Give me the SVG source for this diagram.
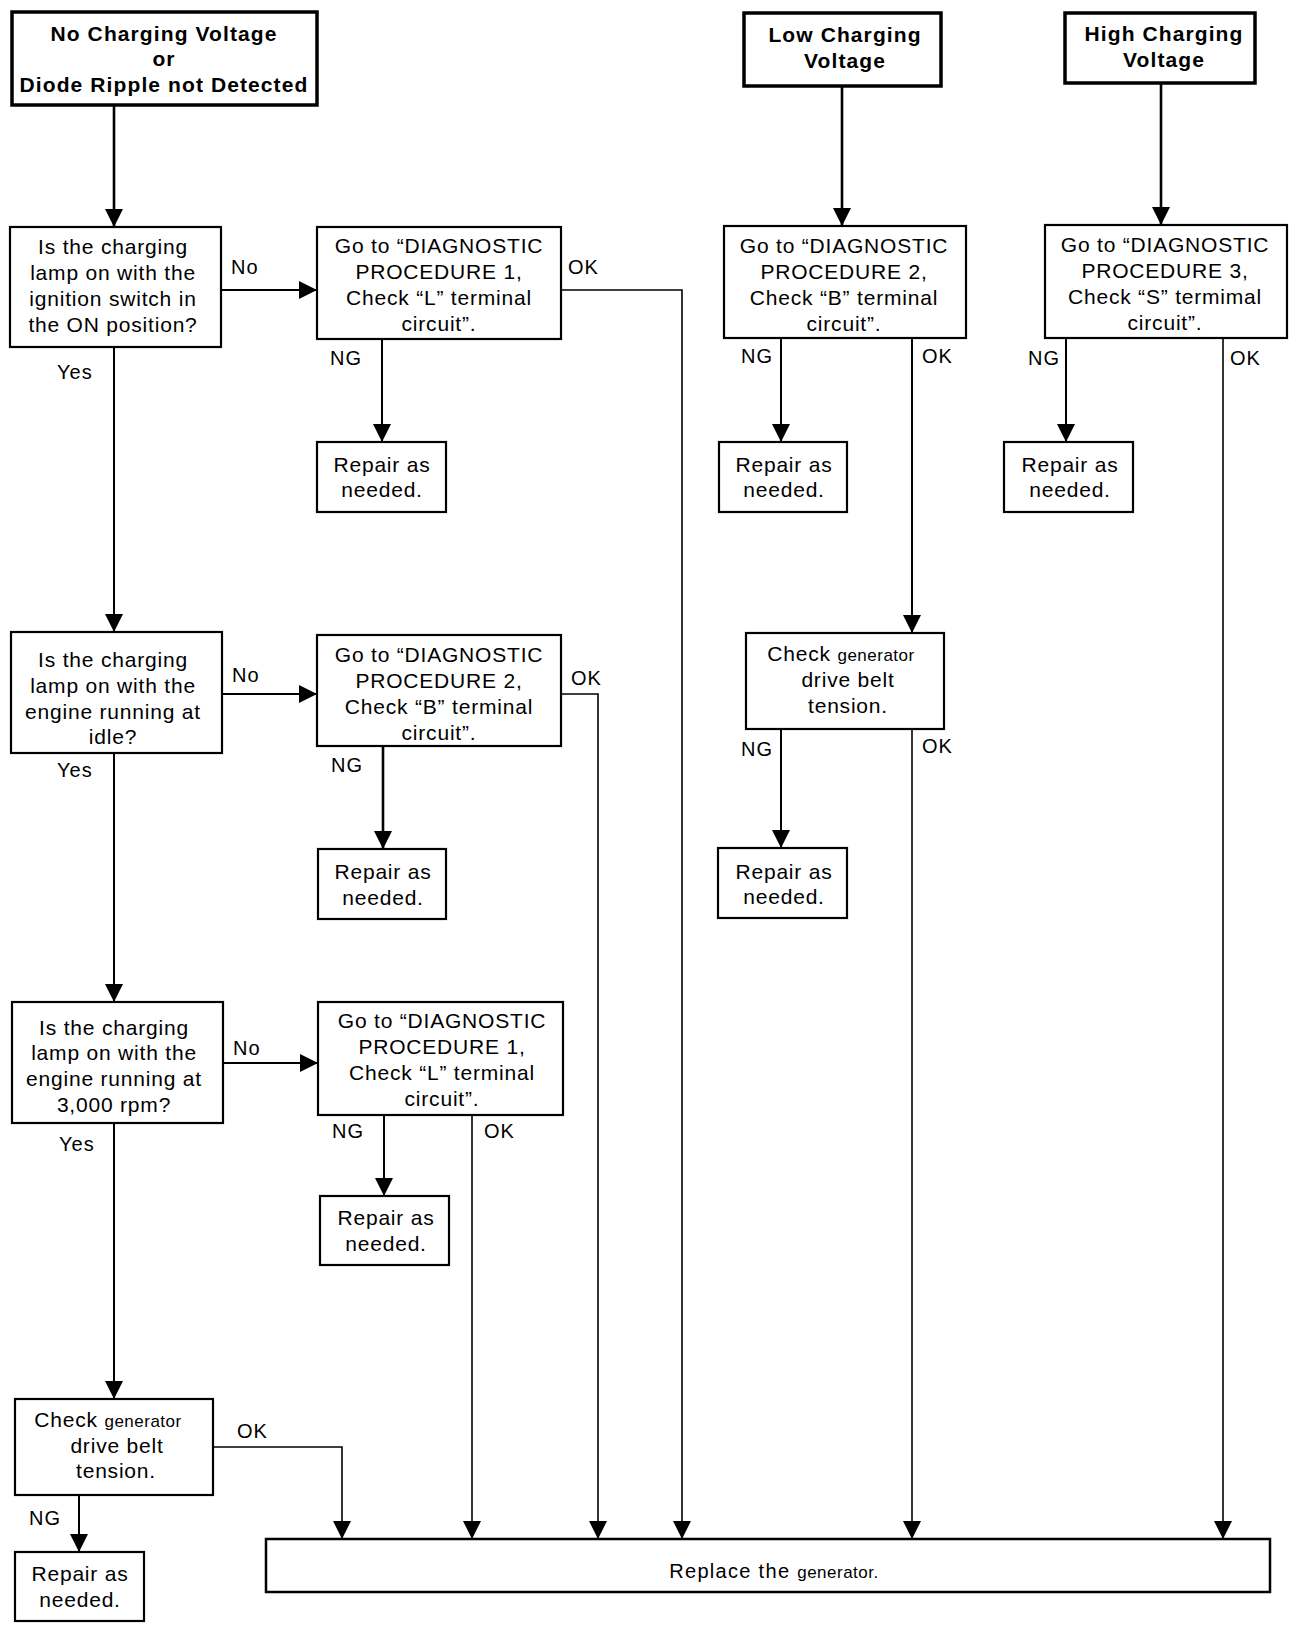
<svg xmlns="http://www.w3.org/2000/svg" width="1312" height="1630" viewBox="0 0 1312 1630">
<style>
.bx{fill:#fff;stroke:#000;stroke-width:2.2}
.hd{fill:#fff;stroke:#000;stroke-width:3.5}
.ln{fill:none;stroke:#000;stroke-width:2}
.th{stroke-width:1.6}
.tk{stroke-width:2.6}
text{font-family:"Liberation Sans",Arial,Helvetica,sans-serif;fill:#000}
.h{font-size:21px;font-weight:bold;letter-spacing:1.1px;text-anchor:middle}
.t{font-size:21px;letter-spacing:0.8px;text-anchor:middle}
.l{font-size:20px;letter-spacing:1px}
.s{font-size:17px;letter-spacing:0.5px}
</style>
<defs>
<marker id="ah" markerUnits="userSpaceOnUse" markerWidth="18" markerHeight="18" refX="18" refY="9" orient="auto">
<path d="M0,0 L18,9 L0,18 z" fill="#000"/>
</marker>
</defs>
<rect width="1312" height="1630" fill="#fff"/>

<g id="connectors" marker-end="url(#ah)">
<path class="ln tk" d="M114,105 V227"/>
<path class="ln" d="M221,290 H317"/>
<path class="ln th" d="M561,290 H682 V1539"/>
<path class="ln" d="M382,339 V442"/>
<path class="ln" d="M114,347 V632"/>
<path class="ln" d="M222,694 H317"/>
<path class="ln th" d="M561,694 H598 V1539"/>
<path class="ln tk" d="M383,746 V849"/>
<path class="ln" d="M114,753 V1002"/>
<path class="ln" d="M223,1063 H318"/>
<path class="ln" d="M384,1115 V1196"/>
<path class="ln th" d="M472,1115 V1539"/>
<path class="ln" d="M114,1123 V1399"/>
<path class="ln th" d="M213,1447 H342 V1539"/>
<path class="ln" d="M79,1495 V1552"/>
<path class="ln tk" d="M842,86 V226"/>
<path class="ln" d="M781,338 V442"/>
<path class="ln" d="M912,338 V633"/>
<path class="ln" d="M781,729 V848"/>
<path class="ln th" d="M912,729 V1539"/>
<path class="ln tk" d="M1161,83 V225"/>
<path class="ln" d="M1066,338 V442"/>
<path class="ln th" d="M1223,338 V1539"/>
</g>

<g id="labels">
<text class="l" x="231" y="274">No</text>
<text class="l" x="568" y="274">OK</text>
<text class="l" x="330" y="365">NG</text>
<text class="l" x="57" y="379">Yes</text>
<text class="l" x="232" y="682">No</text>
<text class="l" x="571" y="685">OK</text>
<text class="l" x="331" y="772">NG</text>
<text class="l" x="57" y="777">Yes</text>
<text class="l" x="233" y="1055">No</text>
<text class="l" x="332" y="1138">NG</text>
<text class="l" x="484" y="1138">OK</text>
<text class="l" x="59" y="1151">Yes</text>
<text class="l" x="237" y="1438">OK</text>
<text class="l" x="29" y="1525">NG</text>
<text class="l" x="741" y="363">NG</text>
<text class="l" x="922" y="363">OK</text>
<text class="l" x="741" y="756">NG</text>
<text class="l" x="922" y="753">OK</text>
<text class="l" x="1028" y="365">NG</text>
<text class="l" x="1230" y="365">OK</text>
</g>

<g id="start-no-charging">
<rect class="hd" x="12" y="12" width="305" height="93"/>
<text class="h" x="164" y="41">No Charging Voltage</text>
<text class="h" x="164" y="66">or</text>
<text class="h" x="164" y="92">Diode Ripple not Detected</text>
</g>

<g id="start-low-charging">
<rect class="hd" x="744" y="13" width="197" height="73"/>
<text class="h" x="845" y="42">Low Charging</text>
<text class="h" x="845" y="68">Voltage</text>
</g>

<g id="start-high-charging">
<rect class="hd" x="1065" y="13" width="190" height="70"/>
<text class="h" x="1164" y="41">High Charging</text>
<text class="h" x="1164" y="67">Voltage</text>
</g>

<g id="q1">
<rect class="bx" x="10" y="227" width="211" height="120"/>
<text class="t" x="113" y="254">Is the charging</text>
<text class="t" x="113" y="280">lamp on with the</text>
<text class="t" x="113" y="306">ignition switch in</text>
<text class="t" x="113" y="332">the ON position?</text>
</g>

<g id="p1">
<rect class="bx" x="317" y="227" width="244" height="112"/>
<text class="t" x="439" y="253">Go to “DIAGNOSTIC</text>
<text class="t" x="439" y="279">PROCEDURE 1,</text>
<text class="t" x="439" y="305">Check “L” terminal</text>
<text class="t" x="439" y="331">circuit”.</text>
</g>

<g id="r1">
<rect class="bx" x="317" y="442" width="129" height="70"/>
<text class="t" x="382" y="472">Repair as</text>
<text class="t" x="382" y="497">needed.</text>
</g>

<g id="q2">
<rect class="bx" x="11" y="632" width="211" height="121"/>
<text class="t" x="113" y="667">Is the charging</text>
<text class="t" x="113" y="693">lamp on with the</text>
<text class="t" x="113" y="719">engine running at</text>
<text class="t" x="113" y="744">idle?</text>
</g>

<g id="p2">
<rect class="bx" x="317" y="635" width="244" height="111"/>
<text class="t" x="439" y="662">Go to “DIAGNOSTIC</text>
<text class="t" x="439" y="688">PROCEDURE 2,</text>
<text class="t" x="439" y="714">Check “B” terminal</text>
<text class="t" x="439" y="740">circuit”.</text>
</g>

<g id="r2">
<rect class="bx" x="318" y="849" width="128" height="70"/>
<text class="t" x="383" y="879">Repair as</text>
<text class="t" x="383" y="905">needed.</text>
</g>

<g id="q3">
<rect class="bx" x="12" y="1002" width="211" height="121"/>
<text class="t" x="114" y="1035">Is the charging</text>
<text class="t" x="114" y="1060">lamp on with the</text>
<text class="t" x="114" y="1086">engine running at</text>
<text class="t" x="114" y="1112">3,000 rpm?</text>
</g>

<g id="p3">
<rect class="bx" x="318" y="1002" width="245" height="113"/>
<text class="t" x="442" y="1028">Go to “DIAGNOSTIC</text>
<text class="t" x="442" y="1054">PROCEDURE 1,</text>
<text class="t" x="442" y="1080">Check “L” terminal</text>
<text class="t" x="442" y="1106">circuit”.</text>
</g>

<g id="r3">
<rect class="bx" x="320" y="1196" width="129" height="69"/>
<text class="t" x="386" y="1225">Repair as</text>
<text class="t" x="386" y="1251">needed.</text>
</g>

<g id="c1">
<rect class="bx" x="15" y="1399" width="198" height="96"/>
<text class="t" x="108" y="1427">Check <tspan class="s">generator</tspan></text>
<text class="t" x="117" y="1453">drive belt</text>
<text class="t" x="116" y="1478">tension.</text>
</g>

<g id="r4">
<rect class="bx" x="15" y="1552" width="129" height="69"/>
<text class="t" x="80" y="1581">Repair as</text>
<text class="t" x="80" y="1607">needed.</text>
</g>

<g id="p4">
<rect class="bx" x="724" y="226" width="242" height="112"/>
<text class="t" x="844" y="253">Go to “DIAGNOSTIC</text>
<text class="t" x="844" y="279">PROCEDURE 2,</text>
<text class="t" x="844" y="305">Check “B” terminal</text>
<text class="t" x="844" y="331">circuit”.</text>
</g>

<g id="r5">
<rect class="bx" x="719" y="442" width="128" height="70"/>
<text class="t" x="784" y="472">Repair as</text>
<text class="t" x="784" y="497">needed.</text>
</g>

<g id="c2">
<rect class="bx" x="746" y="633" width="198" height="96"/>
<text class="t" x="841" y="661">Check <tspan class="s">generator</tspan></text>
<text class="t" x="848" y="687">drive belt</text>
<text class="t" x="848" y="713">tension.</text>
</g>

<g id="r6">
<rect class="bx" x="718" y="848" width="129" height="70"/>
<text class="t" x="784" y="879">Repair as</text>
<text class="t" x="784" y="904">needed.</text>
</g>

<g id="p5">
<rect class="bx" x="1045" y="225" width="242" height="113"/>
<text class="t" x="1165" y="252">Go to “DIAGNOSTIC</text>
<text class="t" x="1165" y="278">PROCEDURE 3,</text>
<text class="t" x="1165" y="304">Check “S” termimal</text>
<text class="t" x="1165" y="330">circuit”.</text>
</g>

<g id="r7">
<rect class="bx" x="1004" y="442" width="129" height="70"/>
<text class="t" x="1070" y="472">Repair as</text>
<text class="t" x="1070" y="497">needed.</text>
</g>

<g id="replace">
<rect class="bx" x="266" y="1539" width="1004" height="53" style="stroke-width:2.5"/>
<text class="t" x="774" y="1578" style="font-size:20px;letter-spacing:1.3px">Replace the <tspan class="s">generator.</tspan></text>
</g>
</svg>
